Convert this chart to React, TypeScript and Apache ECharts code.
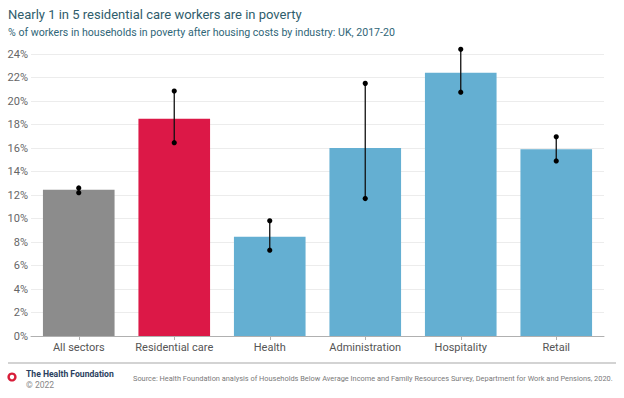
import React, { useEffect, useRef } from "react";
import * as echarts from "echarts";

const categories = ["All sectors", "Residential care", "Health", "Administration", "Hospitality", "Retail"];
const values = [12.45, 18.5, 8.45, 16.0, 22.4, 15.9];
const lowerBounds = [12.2, 16.45, 7.3, 11.7, 20.75, 14.9];
const upperBounds = [12.6, 20.85, 9.8, 21.5, 24.4, 16.95];
const barColors = ["#8c8c8c", "#dc1847", "#64afd2", "#64afd2", "#64afd2", "#64afd2"];

const FONT = "Roboto, 'Noto Sans', sans-serif";

export default function App() {
  const ref = useRef<HTMLDivElement>(null);
  useEffect(() => {
    const chart = echarts.init(ref.current!, null, { renderer: "svg" });
    chart.setOption({
      animation: false,
      backgroundColor: "#ffffff",
      textStyle: { fontFamily: FONT },
      grid: { left: 31, right: 20, top: 54, bottom: 62 },
      xAxis: {
        type: "category",
        data: categories,
        axisLine: { lineStyle: { color: "#b0b0b0", width: 1 } },
        axisTick: { show: true, alignWithLabel: true, length: 4, lineStyle: { color: "#b0b0b0" } },
        axisLabel: { color: "#555555", fontSize: 11, margin: 6, interval: 0, fontFamily: FONT },
      },
      yAxis: {
        type: "value",
        min: 0,
        max: 24,
        interval: 2,
        axisLine: { show: false },
        axisTick: { show: false },
        splitLine: { lineStyle: { color: "#ececec", width: 1 } },
        axisLabel: { color: "#666666", fontSize: 11, margin: 3, formatter: "{value}%", fontFamily: FONT },
      },
      series: [
        {
          type: "bar",
          barWidth: "75%",
          data: values.map((v, i) => ({ value: v, itemStyle: { color: barColors[i] } })),
        },
        {
          type: "custom",
          clip: false,
          z: 10,
          data: categories.map((_, i) => [i, lowerBounds[i], upperBounds[i]]),
          renderItem: (params: any, api: any) => {
            const x = api.value(0);
            const lo = api.coord([x, api.value(1)]);
            const hi = api.coord([x, api.value(2)]);
            return {
              type: "group",
              children: [
                { type: "line", shape: { x1: lo[0], y1: lo[1], x2: hi[0], y2: hi[1] }, style: { stroke: "#111", lineWidth: 1.3 } },
                { type: "circle", shape: { cx: lo[0], cy: lo[1], r: 2.6 }, style: { fill: "#000" } },
                { type: "circle", shape: { cx: hi[0], cy: hi[1], r: 2.6 }, style: { fill: "#000" } },
              ],
            };
          },
        },
      ],
      graphic: [
        { type: "text", left: 8, top: 8, style: { text: "Nearly 1 in 5 residential care workers are in poverty", fill: "#2f5d6c", font: `13px ${FONT}` } },
        { type: "text", left: 8, top: 27, style: { text: "% of workers in households in poverty after housing costs by industry: UK, 2017-20", fill: "#2f6678", font: `10.6px ${FONT}` } },
        { type: "line", shape: { x1: 8, y1: 363, x2: 616, y2: 363 }, style: { stroke: "#c4c4c4", lineWidth: 1.5 } },
        { type: "ring", shape: { cx: 12, cy: 377, r: 4.6, r0: 2.2 }, style: { fill: "#d81e3a" } },
        { type: "text", left: 26, top: 369, style: { text: "The Health Foundation", fill: "#2b3f60", font: `bold 8.6px ${FONT}` } },
        { type: "text", left: 26, top: 380, style: { text: "© 2022", fill: "#888", font: `8.6px ${FONT}` } },
        { type: "text", left: 133, top: 375, style: { text: "Source: Health Foundation analysis of Households Below Average Income and Family Resources Survey, Department for Work and Pensions, 2020.", fill: "#7a7a7a", font: `7.4px ${FONT}` } },
      ],
    });
    return () => chart.dispose();
  }, []);
  return <div ref={ref} style={{ position: "fixed", left: 0, top: 0, width: 624, height: 398 }} />;
}
